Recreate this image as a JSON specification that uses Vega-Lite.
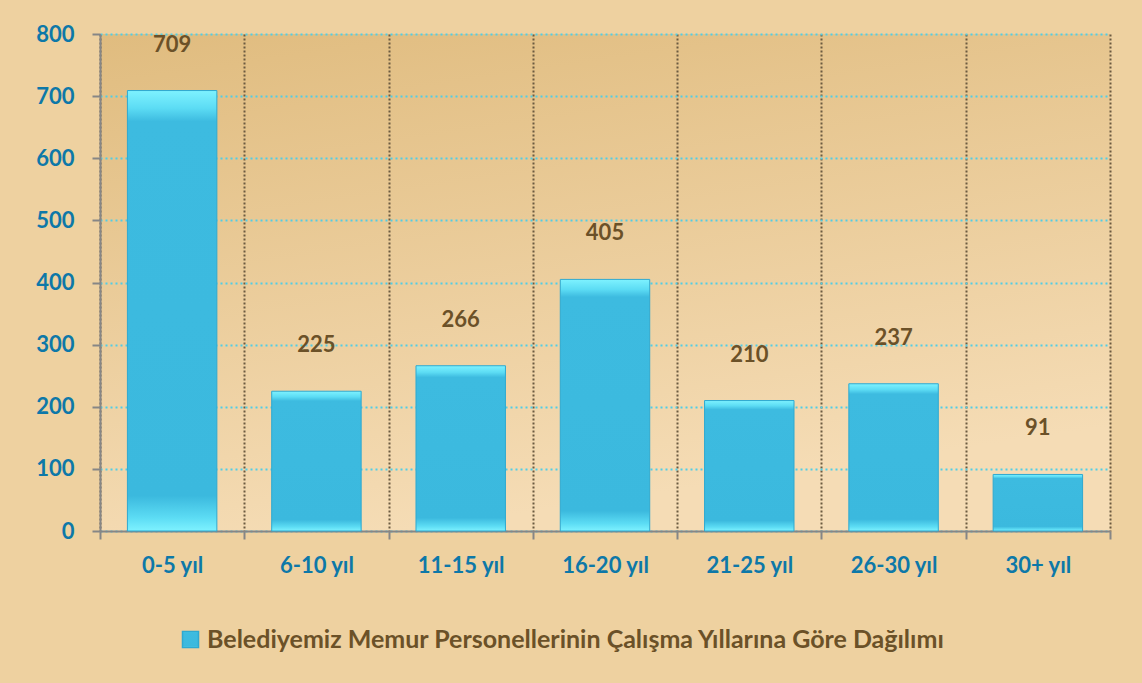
{
  "$schema": "https://vega.github.io/schema/vega-lite/v6.json",
  "autosize": "none",
  "width": 1010,
  "height": 497,
  "padding": {"left": 100, "top": 34, "right": 32, "bottom": 152},
  "background": "#eed1a0",
  "config": {
    "font": "Lato",
    "view": {
      "stroke": null,
      "fill": {
        "gradient": "linear", "x1": 0, "y1": 0, "x2": 0.3, "y2": 1,
        "stops": [
          {"offset": 0, "color": "#e0bc7f"},
          {"offset": 1, "color": "#f5dcb5"}
        ]
      }
    }
  },
  "data": {
    "values": [
      {"category": "0-5 yıl", "value": 709, "series": "Belediyemiz Memur Personellerinin Çalışma Yıllarına Göre Dağılımı"},
      {"category": "6-10 yıl", "value": 225, "series": "Belediyemiz Memur Personellerinin Çalışma Yıllarına Göre Dağılımı"},
      {"category": "11-15 yıl", "value": 266, "series": "Belediyemiz Memur Personellerinin Çalışma Yıllarına Göre Dağılımı"},
      {"category": "16-20 yıl", "value": 405, "series": "Belediyemiz Memur Personellerinin Çalışma Yıllarına Göre Dağılımı"},
      {"category": "21-25 yıl", "value": 210, "series": "Belediyemiz Memur Personellerinin Çalışma Yıllarına Göre Dağılımı"},
      {"category": "26-30 yıl", "value": 237, "series": "Belediyemiz Memur Personellerinin Çalışma Yıllarına Göre Dağılımı"},
      {"category": "30+ yıl", "value": 91, "series": "Belediyemiz Memur Personellerinin Çalışma Yıllarına Göre Dağılımı"}
    ]
  },
  "encoding": {
    "x": {
      "field": "category", "type": "nominal", "sort": null,
      "scale": {"paddingInner": 0, "paddingOuter": 0},
      "axis": {
        "title": null, "labelAngle": 0, "tickBand": "extent",
        "domainColor": "#868686", "domainWidth": 2,
        "tickColor": "#868686", "tickWidth": 2, "tickSize": 8,
        "labelColor": "#0d78a8", "labelFont": "Lato", "labelFontWeight": "bold", "labelFontSize": 22,
        "labelPadding": 16,
        "grid": true, "gridColor": "#6b5a40", "gridDash": [2, 2], "gridWidth": 2
      }
    },
    "y": {
      "field": "value", "type": "quantitative",
      "scale": {"domain": [0, 800], "nice": false},
      "axis": {
        "title": null, "values": [0, 100, 200, 300, 400, 500, 600, 700, 800],
        "domainColor": "#868686", "domainWidth": 2,
        "tickColor": "#868686", "tickWidth": 2, "tickSize": 8,
        "labelColor": "#0d78a8", "labelFont": "Lato", "labelFontWeight": "bold", "labelFontSize": 22,
        "labelPadding": 18,
        "grid": true, "gridColor": "#4fcde8", "gridDash": [2, 3], "gridWidth": 2
      }
    }
  },
  "layer": [
    {
      "mark": {
        "type": "bar",
        "width": {"band": 0.62},
        "fill": {
          "gradient": "linear", "x1": 0, "y1": 0, "x2": 0, "y2": 1,
          "stops": [
            {"offset": 0, "color": "#7ef2ff"},
            {"offset": 0.04, "color": "#5cdcf4"},
            {"offset": 0.07, "color": "#3dbbe0"},
            {"offset": 0.92, "color": "#3bb9de"},
            {"offset": 0.97, "color": "#5cdcf4"},
            {"offset": 1, "color": "#7ef2ff"}
          ]
        },
        "strokeWidth": 1
      },
      "encoding": {
        "stroke": {
          "field": "series", "type": "nominal",
          "scale": {"range": ["#2fa9d0"]},
          "legend": {
            "title": null, "orient": "none", "legendX": 78, "legendY": 593, "direction": "horizontal",
            "symbolType": "square", "symbolFillColor": "#45c9ea", "symbolStrokeColor": "#2fa9d0",
            "symbolSize": 256, "labelFont": "Lato", "labelFontWeight": "bold", "labelFontSize": 25,
            "labelColor": "#6b5128", "labelLimit": 1000, "symbolOffset": 0, "labelOffset": 4
          }
        }
      }
    },
    {
      "mark": {"type": "text", "baseline": "middle", "dy": -46, "font": "Lato", "fontWeight": "bold", "fontSize": 22, "color": "#6b5128"},
      "encoding": {
        "text": {"field": "value", "type": "quantitative"}
      }
    }
  ]
}
